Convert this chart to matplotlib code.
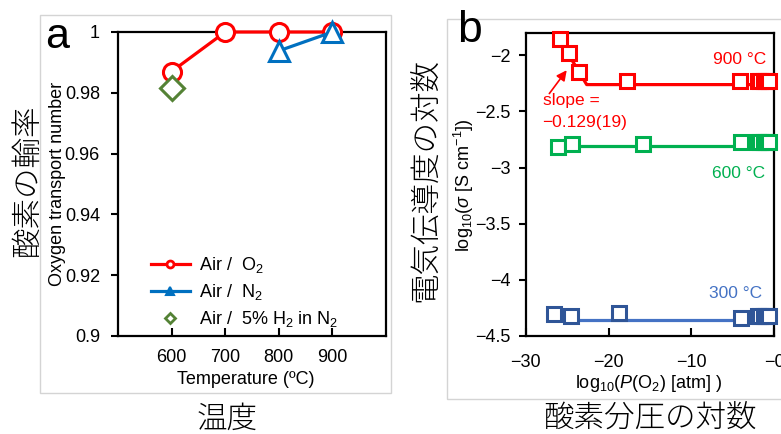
import matplotlib
matplotlib.use("Agg")
import matplotlib.pyplot as plt
from matplotlib.lines import Line2D
from matplotlib.patches import Rectangle

plt.rcParams['font.family'] = ['Liberation Sans', 'Noto Sans CJK JP', 'DejaVu Sans']
plt.rcParams['mathtext.fontset'] = 'custom'
plt.rcParams['mathtext.rm'] = 'Liberation Sans'
plt.rcParams['mathtext.it'] = 'Liberation Sans:italic'
plt.rcParams['mathtext.bf'] = 'Liberation Sans:bold'

# panel a: oxygen transport number vs temperature
temp_o2 = [600, 700, 800, 900]
tn_o2 = [0.987, 1.0, 1.0, 1.0]
temp_n2 = [800, 900]
tn_n2 = [0.9938, 1.0]
temp_h2 = [600]
tn_h2 = [0.9816]
a_yticks = [0.9, 0.92, 0.94, 0.96, 0.98, 1.0]
a_yticklabels = ["0.9", "0.92", "0.94", "0.96", "0.98", "1"]
a_xticks = [600, 700, 800, 900]

# panel b: log conductivity vs log pO2
logp_900 = [-25.9, -24.8, -23.55, -17.75, -4.1, -2.0, -1.7, -1.3, -1.0, -0.68]
logs_900 = [-1.854, -1.98, -2.152, -2.226, -2.228, -2.228, -2.228, -2.228, -2.228, -2.228]
fit_900_x = [-26.4, -22.64, 0]
fit_900_y = [-1.80, -2.262, -2.262]
logp_600 = [-26.14, -24.45, -15.81, -4.02, -2.0, -1.7, -1.3, -1.0, -0.68]
logs_600 = [-2.815, -2.79, -2.795, -2.775, -2.775, -2.775, -2.775, -2.775, -2.775]
fit_600_x = [-25.9, 0]
fit_600_y = [-2.805, -2.805]
logp_300 = [-26.55, -24.53, -18.74, -4.02, -2.0, -1.7, -1.3, -1.0, -0.68]
logs_300 = [-4.30, -4.325, -4.295, -4.34, -4.32, -4.32, -4.32, -4.32, -4.32]
fit_300_x = [-25.9, 0]
fit_300_y = [-4.357, -4.357]
b_yticks = [-4.5, -4, -3.5, -3, -2.5, -2]
b_yticklabels = ["−4.5", "−4", "−3.5", "−3", "−2.5", "−2"]
b_xticks = [-30, -20, -10, 0]
b_xticklabels = ["−30", "−20", "−10", "−0"]

W, H = 781, 434
def fx(px):
    return px / W
def fy(py):
    return 1 - py / H

RED = "#FF0000"
BLUE = "#0070C0"
OLIVE = "#548235"
GREEN = "#00B050"
NAVY = "#2F5597"
LBLUE = "#4472C4"
JP = "Noto Sans CJK JP"

fig = plt.figure(figsize=(7.81, 4.34), dpi=100)

# light grey frames around the two panels
fig.add_artist(Rectangle((fx(39.5), fy(392.5)), fx(391) - fx(39.5), fy(15) - fy(392.5),
                         transform=fig.transFigure, fill=False, edgecolor="#D4D4D4", lw=1))
fig.add_artist(Rectangle((fx(446.5), fy(399)), fx(800) - fx(446.5), fy(18.5) - fy(399),
                         transform=fig.transFigure, fill=False, edgecolor="#D4D4D4", lw=1))

# ---------- panel a ----------
ax1 = fig.add_axes([fx(118), fy(336), fx(386) - fx(118), fy(32) - fy(336)])
ax1.plot(temp_o2, tn_o2, "-o", color=RED, lw=2.3, ms=13, mew=2.2, mfc="white", clip_on=False, zorder=3)
ax1.plot(temp_n2, tn_n2, "-^", color=BLUE, lw=2.3, ms=14.5, mew=2.2, mfc="white", clip_on=False, zorder=4)
ax1.plot(temp_h2, tn_h2, "D", color=OLIVE, ms=12.5, mew=2.2, mfc="white", clip_on=False, zorder=4)
ax1.set_xlim(500, 1000)
ax1.set_ylim(0.9, 1.0)
ax1.set_xticks(a_xticks)
ax1.set_yticks(a_yticks)
ax1.set_yticklabels(a_yticklabels)
ax1.tick_params(axis="y", direction="out", length=5, width=1.5, labelsize=13, pad=8)
ax1.tick_params(axis="x", direction="in", length=6, width=1.5, labelsize=13, pad=9)
for s in ax1.spines.values():
    s.set_linewidth(1.6)

handles = [
    Line2D([], [], color=RED, lw=2.3, marker="o", ms=5, mew=2, mfc="white"),
    Line2D([], [], color=BLUE, lw=2.3, marker="^", ms=6, mew=1.5, mfc=BLUE),
    Line2D([], [], color=OLIVE, lw=0, marker="D", ms=5, mew=2, mfc="white"),
]
labels = ["Air /  O$_2$", "Air /  N$_2$", "Air /  5% H$_2$ in N$_2$"]
ax1.legend(handles, labels, loc="upper left", bbox_to_anchor=(0.123, 0.267), frameon=False,
           fontsize=13, handlelength=2.15, handletextpad=0.5, labelspacing=0.39,
           borderpad=0, borderaxespad=0)

fig.text(fx(246), fy(379), "Temperature (ºC)", ha="center", va="center", fontsize=13)
fig.text(fx(57), fy(184), "Oxygen transport number", ha="center", va="center",
         rotation=90, fontsize=13)
fig.text(fx(57), fy(37), "a", ha="center", va="center", fontsize=31)

# ---------- panel b ----------
ax2 = fig.add_axes([fx(525.7), fy(336), fx(774.3) - fx(525.7), fy(32.7) - fy(336)])
ax2.plot(fit_900_x, fit_900_y, "-", color=RED, lw=2.3, zorder=2)
ax2.plot(fit_600_x, fit_600_y, "-", color=GREEN, lw=2.3, zorder=2)
ax2.plot(fit_300_x, fit_300_y, "-", color=LBLUE, lw=2.3, zorder=2)
ax2.plot(logp_900, logs_900, "s", color=RED, ms=9.5, mew=2.2, mfc="white", clip_on=False, zorder=3)
ax2.plot(logp_600, logs_600, "s", color=GREEN, ms=9.5, mew=2.2, mfc="white", clip_on=False, zorder=3)
ax2.plot(logp_300, logs_300, "s", color=NAVY, ms=9.5, mew=2.2, mfc="white", clip_on=False, zorder=3)
ax2.set_xlim(-30, 0)
ax2.set_ylim(-4.5, -1.8)
ax2.set_xticks(b_xticks)
ax2.set_xticklabels(b_xticklabels)
ax2.set_yticks(b_yticks)
ax2.set_yticklabels(b_yticklabels)
ax2.tick_params(axis="y", direction="out", length=5, width=1.5, labelsize=13, pad=6)
ax2.tick_params(axis="x", direction="in", length=6, width=1.5, labelsize=13, pad=13)
for s in ax2.spines.values():
    s.set_linewidth(1.6)

ax2.text(-1.0, -2.036, "900 °C", color=RED, ha="right", va="center", fontsize=12.5)
ax2.text(-1.1, -3.054, "600 °C", color=GREEN, ha="right", va="center", fontsize=12.5)
ax2.text(-1.48, -4.122, "300 °C", color=LBLUE, ha="right", va="center", fontsize=12.5)
ax2.text(-27.95, -2.40, "slope =", color=RED, ha="left", va="center", fontsize=12.5)
ax2.text(-28.05, -2.60, "−0.129(19)", color=RED, ha="left", va="center", fontsize=12.5)
ax2.annotate("", xy=(-25.05, -2.134), xytext=(-27.15, -2.342),
             arrowprops=dict(arrowstyle="-|>", color=RED, lw=1.2, mutation_scale=15,
                             shrinkA=0, shrinkB=0))

fig.text(fx(648.5), fy(383), "log$_{10}$($\\mathit{P}$(O$_2$) [atm] )", ha="center", va="center",
         fontsize=13)
fig.text(fx(463.5), fy(185), "log$_{10}$($\\sigma$ [S cm$^{-1}$])", ha="center", va="center",
         rotation=90, fontsize=13)
fig.text(fx(470), fy(31), "b", ha="center", va="center", fontsize=32)

# japanese captions
fig.text(fx(227), fy(419), "温度", ha="center", va="center", fontsize=22, family=JP, fontweight="light")
fig.text(fx(650), fy(419), "酸素分圧の対数", ha="center", va="center", fontsize=22, family=JP, fontweight="light")
fig.text(fx(27), fy(181), "酸素の輸率", ha="center", va="center", rotation=90, fontsize=22,
         family=JP, fontweight="light")
fig.text(fx(426), fy(180), "電気伝導度の対数", ha="center", va="center", rotation=90, fontsize=22,
         family=JP, fontweight="light")

fig.savefig("out.png", dpi=100)
